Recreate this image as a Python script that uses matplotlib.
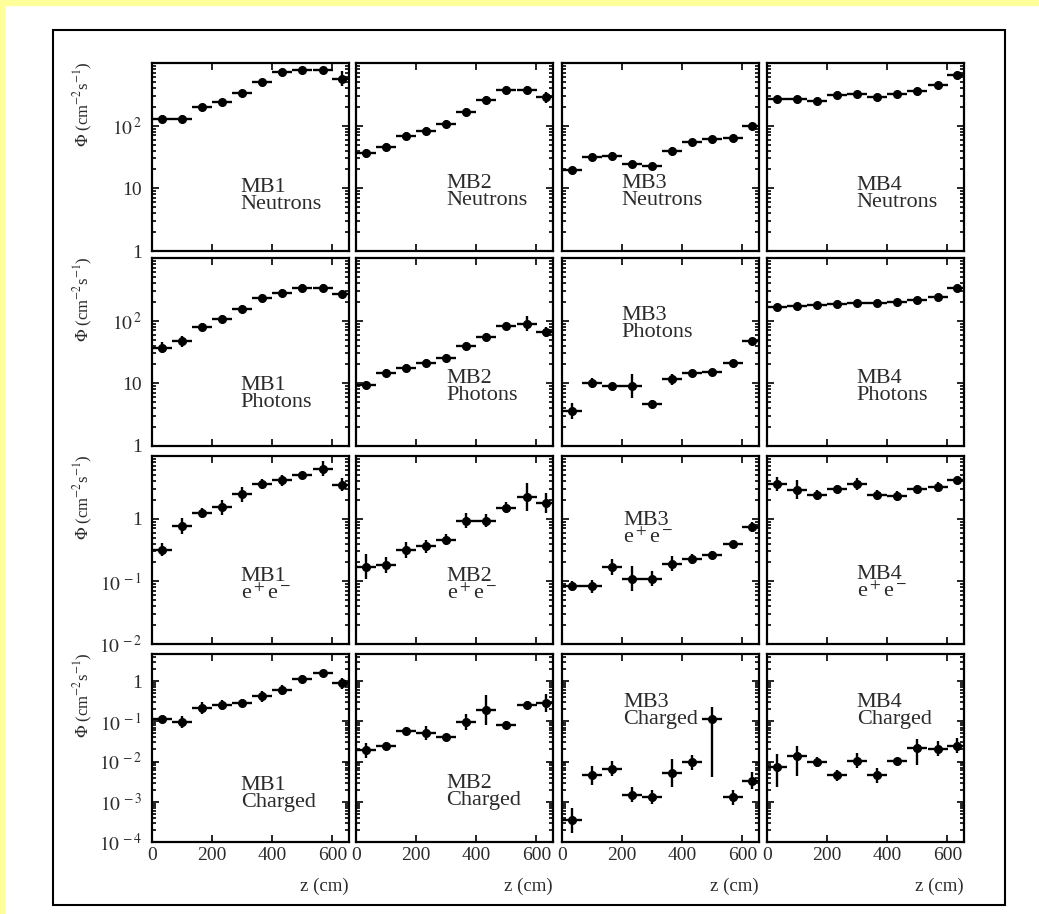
import matplotlib.pyplot as plt
import matplotlib.ticker as mticker
import numpy as np

plt.rcParams['font.family'] = ['Liberation Serif', 'DejaVu Serif']
plt.rcParams['mathtext.fontset'] = 'stix'

# bin centres along z (cm), 10 bins of ~66.7 cm
z_centres = [33, 100, 167, 233, 300, 367, 433, 500, 567, 633]
z_halfwidth = 33.3

chambers = ['MB1', 'MB2', 'MB3', 'MB4']
particles = ['Neutrons', 'Photons', 'e$^+$e$^-$', 'Charged']

# flux values, one list per chamber, one block per particle type
neutrons = [
    [130, 130, 195, 235, 330, 500, 720, 775, 760, 565],
    [36, 46, 68, 81, 105, 163, 257, 372, 372, 282],
    [19.6, 31.4, 33.4, 24.6, 22.4, 40, 55, 62, 63, 98],
    [262, 265, 246, 309, 320, 288, 315, 360, 444, 645],
]
photons = [
    [37, 47, 79, 107, 155, 230, 275, 330, 330, 270],
    [9.3, 14.4, 17.7, 20.8, 25.6, 39, 55, 81, 89, 65],
    [3.6, 10.2, 9.1, 9.1, 4.7, 11.6, 14.8, 15.1, 20.8, 47],
    [165, 170, 180, 185, 190, 190, 200, 215, 240, 330],
]
electrons = [
    [0.32, 0.76, 1.23, 1.51, 2.45, 3.6, 4.1, 5.0, 6.3, 3.5],
    [0.17, 0.18, 0.32, 0.36, 0.46, 0.93, 0.93, 1.5, 2.2, 1.8],
    [0.085, 0.083, 0.17, 0.11, 0.11, 0.19, 0.23, 0.26, 0.40, 0.74],
    [3.6, 2.9, 2.4, 3.0, 3.6, 2.4, 2.3, 3.0, 3.2, 4.1],
]
charged = [
    [0.112, 0.096, 0.21, 0.25, 0.28, 0.42, 0.59, 1.12, 1.55, 0.87],
    [0.019, 0.024, 0.058, 0.051, 0.041, 0.096, 0.195, 0.083, 0.26, 0.29],
    [3.5e-4, 4.5e-3, 6.6e-3, 1.5e-3, 1.3e-3, 5.1e-3, 9.5e-3, 0.117, 1.3e-3, 3.3e-3],
    [7.5e-3, 0.014, 9.6e-3, 4.5e-3, 0.0105, 4.5e-3, 0.0103, 0.022, 0.021, 0.025],
]

# error bar half-lengths in decades: (down, up)
neutrons_err = [
    [0.05] * 9 + [0.12],
    [0.065] * 9 + [0.09],
    [0.05] * 10,
    [0.04] * 10,
]
photons_err = [
    [0.09, 0.09, 0.065, 0.065, 0.065, 0.065, 0.065, 0.065, 0.065, 0.065],
    [0.065, 0.065, 0.065, 0.065, 0.065, 0.065, 0.065, 0.065, 0.12, 0.08],
    [0.125, 0.08, 0.05, 0.19, 0.065, 0.09, 0.05, 0.05, 0.05, 0.05],
    [0.04] * 10,
]
electrons_err = [
    [0.1, 0.13, 0.08, 0.12, 0.12, 0.08, 0.09, 0.05, 0.12, 0.11],
    [0.2, 0.13, 0.13, 0.11, 0.09, 0.12, 0.1, 0.09, 0.22, 0.16],
    [0.08, 0.11, 0.13, 0.2, 0.12, 0.12, 0.08, 0.065, 0.045, 0.08],
    [0.11, 0.15, 0.08, 0.065, 0.1, 0.075, 0.085, 0.065, 0.085, 0.055],
]
charged_err = [
    [0.07, 0.16, 0.15, 0.12, 0.1, 0.14, 0.12, 0.1, 0.08, 0.14],
    [0.18, 0.1, 0.1, 0.17, 0.07, 0.2, 0.37, 0.1, 0.1, 0.22],
    [0.31, 0.23, 0.19, 0.19, 0.17, 0.35, 0.18, (1.46, 0.29), 0.19, 0.21],
    [(0.5, 0.32), (0.5, 0.25), 0.13, 0.13, 0.19, 0.18, 0.08, (0.44, 0.22), 0.19, 0.19],
]

row_values = [neutrons, photons, electrons, charged]
row_errors = [neutrons_err, photons_err, electrons_err, charged_err]
row_ylims = [(1, 1000), (1, 1000), (0.01, 10), (1e-4, 4.7)]
row_yticks = [[1, 10, 100], [1, 10, 100], [0.01, 0.1, 1], [1e-4, 1e-3, 1e-2, 1e-1, 1]]

# label positions (axes fraction, top-left of text)
label_pos = [
    [(0.45, 0.39), (0.46, 0.41), (0.30, 0.41), (0.455, 0.40)],
    [(0.45, 0.37), (0.46, 0.41), (0.30, 0.745), (0.455, 0.41)],
    [(0.45, 0.41), (0.46, 0.41), (0.31, 0.71), (0.455, 0.42)],
    [(0.45, 0.35), (0.46, 0.36), (0.31, 0.79), (0.455, 0.79)],
]

text_col = '#2b2b2b'


def log_fmt(v, pos):
    e = int(round(np.log10(v)))
    if e == 0:
        return '1'
    if e == 1:
        return '10'
    return r'$10^{\,%d}$' % e


W, H = 1039, 914
fig = plt.figure(figsize=(W / 100, H / 100), dpi=100)
fig.patch.set_facecolor('white')

# yellow page edge and black frame
fig.patches.append(plt.Rectangle((0, 1 - 5 / H), 1, 5 / H, transform=fig.transFigure,
                                 color='#ffff99', zorder=0))
fig.patches.append(plt.Rectangle((0, 0), 4 / W, 1, transform=fig.transFigure,
                                 color='#ffff99', zorder=0))
fig.patches.append(plt.Rectangle((53 / W, 1 - 905 / H), (1005 - 53) / W, (905 - 30) / H,
                                 transform=fig.transFigure, fill=False,
                                 edgecolor='black', linewidth=1.5, zorder=1))

col_left = [152, 356, 562, 767]
row_top = [63, 258, 456, 654]
ax_w, ax_h = 197, 188

for r in range(4):
    for c in range(4):
        ax = fig.add_axes([col_left[c] / W, 1 - (row_top[r] + ax_h) / H, ax_w / W, ax_h / H])
        vals = np.array(row_values[r][c])
        errs = row_errors[r][c]
        lo = np.array([e[0] if isinstance(e, tuple) else e for e in errs])
        hi = np.array([e[1] if isinstance(e, tuple) else e for e in errs])
        yerr = [vals * (1 - 10 ** (-lo)), vals * (10 ** hi - 1)]
        ax.errorbar(z_centres, vals, xerr=z_halfwidth, yerr=yerr, fmt='o', color='black',
                    markersize=5.5, elinewidth=1.7, capsize=0)
        ax.set_yscale('log')
        ax.set_xlim(0, 655)
        ax.set_ylim(*row_ylims[r])
        ax.set_xticks([0, 200, 400, 600])
        ax.set_yticks(row_yticks[r])
        ax.yaxis.set_minor_locator(mticker.LogLocator(base=10, subs=np.arange(2, 10), numticks=20))
        ax.yaxis.set_minor_formatter(mticker.NullFormatter())
        ax.tick_params(which='both', direction='in', top=True, right=True, width=1.2)
        ax.tick_params(which='major', length=5, labelsize=14, colors='black', labelcolor=text_col)
        ax.tick_params(which='minor', length=3)
        ax.tick_params(axis='y', pad=7)
        for s in ax.spines.values():
            s.set_linewidth(1.6)
        if c == 0:
            ax.yaxis.set_major_formatter(mticker.FuncFormatter(log_fmt))
            ax.set_ylabel(r'$\Phi$ (cm$^{-2}$s$^{-1}$)', color=text_col, fontsize=12)
            ax.yaxis.set_label_coords(-0.29, 0.78)
        else:
            ax.set_yticklabels([])
        if r == 3:
            ax.set_xticklabels(['0', '200', '400', '600'])
            ax.set_xlabel('z (cm)', color=text_col, fontsize=13.5, ha='right')
            ax.xaxis.set_label_coords(1.0, -0.19)
        else:
            ax.set_xticklabels([])
        tx, ty = label_pos[r][c]
        ax.text(tx, ty, chambers[c] + '\n' + particles[r], transform=ax.transAxes,
                ha='left', va='top', fontsize=16, color=text_col, linespacing=0.85)

fig.savefig('out.png', dpi=100)
